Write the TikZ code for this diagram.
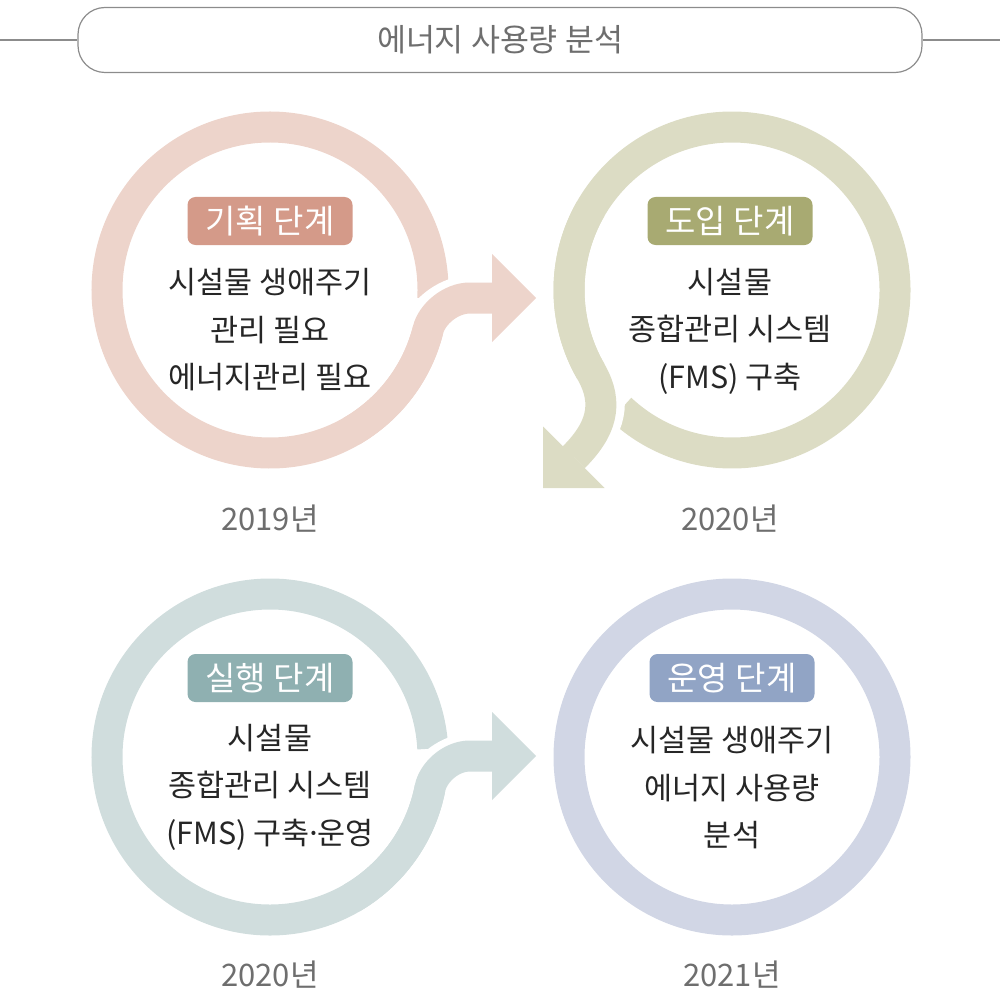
\documentclass[tikz,border=0pt]{standalone}
\usepackage{fontspec}
\setmainfont{Noto Sans CJK KR}
\usetikzlibrary{calc}
\definecolor{planring}{HTML}{EDD4CB}
\definecolor{plantag}{HTML}{D49A89}
\definecolor{introring}{HTML}{DCDCC4}
\definecolor{introtag}{HTML}{A8AA72}
\definecolor{runring}{HTML}{D0DDDD}
\definecolor{runtag}{HTML}{8FB0B1}
\definecolor{operring}{HTML}{D1D6E5}
\definecolor{opertag}{HTML}{91A4C5}
\definecolor{bodytext}{HTML}{262626}
\definecolor{yeartext}{HTML}{6E6E6E}
\definecolor{framegray}{HTML}{8C8C8C}
\begin{document}
\begin{tikzpicture}[x=1pt,y=1pt,
  ring/.style={line width=31pt},
  halo/.style={line width=45pt,white,shorten <=10pt},
  tag/.style={rounded corners=8pt,minimum width=165pt,minimum height=48pt,inner sep=0pt,text=white,font=\fontsize{33}{38}\selectfont},
  body/.style={align=center,text=bodytext,font=\fontsize{30.5}{47.5}\selectfont},
  year/.style={text=yeartext,font=\fontsize{31}{36}\selectfont}]
  \useasboundingbox (0,0) rectangle (1000,-1000);
  % title bar
  \node[draw=framegray,line width=1.2pt,rounded corners=27pt,minimum width=844pt,minimum height=65pt,text=yeartext,font=\fontsize{31.5}{38}\selectfont] (title) at (500,-40) {에너지 사용량 분석};
  \coordinate (lend) at (0,-40);
  \coordinate (rend) at (1000,-40);
  \draw[framegray,line width=1.2pt] (lend) -- (title.west);
  \draw[framegray,line width=1.2pt] (title.east) -- (rend);
  % ring 1, tail to the right
  \coordinate (c1) at (270,-290);
  \coordinate (d1) at ($(c1)+(346:163)$);
  \coordinate (b1) at (492,-298);
  \draw[planring,ring] ($(c1)+(-3:163)$) arc[start angle=-3,end angle=346,radius=163];
  \draw[halo] (d1) .. controls +(76:15) and +(-20,0) .. (470,-298) -- (b1);
  \draw[planring,ring] ($(c1)+(300:163)$) arc[start angle=300,end angle=346,radius=163]
    .. controls +(76:15) and +(-20,0) .. (470,-298) -- (b1);
  \fill[planring] (492,-254) -- (536,-298) -- (492,-342) -- cycle;
  % ring 2, tail down-left
  \coordinate (c2) at (732,-290);
  \coordinate (d2) at ($(c2)+(210:163)$);
  \coordinate (b2) at (573.75,-457.25);
  \draw[introring,ring] ($(c2)+(227:163)$) arc[start angle=227,end angle=570,radius=163];
  \draw[halo] (d2) .. controls +(300:38) and +(45:38) .. (b2);
  \draw[introring,ring] ($(c2)+(150:163)$) arc[start angle=150,end angle=210,radius=163]
    .. controls +(300:38) and +(45:38) .. (b2);
  \fill[introring] (543,-426.5) -- (543,-488) -- (604.5,-488) -- cycle;
  % ring 3, tail to the right
  \coordinate (c3) at (270,-757);
  \coordinate (d3) at ($(c3)+(349:163)$);
  \coordinate (b3) at (492,-756);
  \draw[runring,ring] ($(c3)+(3:163)$) arc[start angle=3,end angle=349,radius=163];
  \draw[halo] (d3) .. controls +(79:15) and +(-20,0) .. (470,-756) -- (b3);
  \draw[runring,ring] ($(c3)+(300:163)$) arc[start angle=300,end angle=349,radius=163]
    .. controls +(79:15) and +(-20,0) .. (470,-756) -- (b3);
  \fill[runring] (492,-712) -- (536,-756) -- (492,-800) -- cycle;
  % ring 4, closed
  \coordinate (c4) at (732,-757);
  \draw[operring,ring] (c4) circle[radius=163];
  % stage tags
  \node[tag,fill=plantag] (tag1) at (270,-221) {기획 단계};
  \node[tag,fill=introtag] (tag2) at (730,-221) {도입 단계};
  \node[tag,fill=runtag] (tag3) at (270,-678) {실행 단계};
  \node[tag,fill=opertag] (tag4) at (732,-678) {운영 단계};
  % texts
  \node[body] (body1) at (270,-330) {시설물 생애주기\\관리 필요\\에너지관리 필요};
  \node[body] (body2) at (730,-331) {시설물\\종합관리 시스템\\(FMS) 구축};
  \node[body] (body3) at (270,-787) {시설물\\종합관리 시스템\\(FMS) 구축\kern-4.5pt·\kern-4.5pt운영};
  \node[body] (body4) at (732,-788) {시설물 생애주기\\에너지 사용량\\분석};
  % years
  \node[year] (year1) at (270,-519) {2019년};
  \node[year] (year2) at (730,-519) {2020년};
  \node[year] (year3) at (270,-975) {2020년};
  \node[year] (year4) at (732,-975) {2021년};
\end{tikzpicture}
\end{document}
